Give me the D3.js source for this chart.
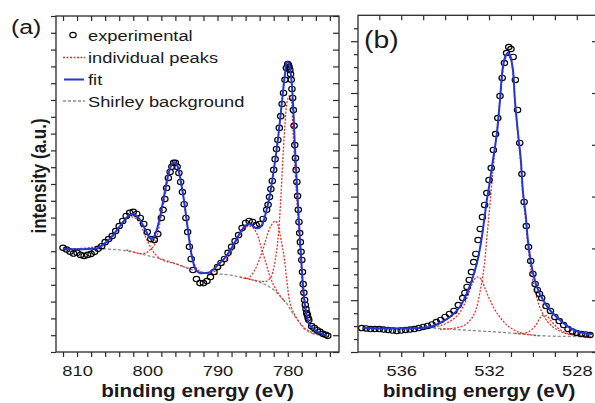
<!DOCTYPE html>
<html><head><meta charset="utf-8">
<script src="https://cdn.jsdelivr.net/npm/d3@7"></script>
<style>
html,body{margin:0;padding:0;background:#fff;}
svg{display:block;}
text{font-family:"Liberation Sans", Arial, sans-serif; fill:#1a1a1a;}
</style></head><body>
<svg id="chart" width="595" height="403"></svg>
<script>
// ---------- DATA (binding energy eV, intensity a.u.) ----------
const panelLabels = ["(a)", "(b)"];
const legendLabels = ["experimental", "individual peaks", "fit", "Shirley background"];
const xTitle = "binding energy (eV)";
const yTitle = "intensity (a.u.)";
const xTickLabelsA = [810, 800, 790, 780];
const xTickLabelsB = [536, 532, 528];

const expA = [[812.0,3.10],[811.5,3.05],[811.0,2.98],[810.5,2.93],[810.0,2.95],[809.5,2.89],[809.0,2.86],[808.5,2.89],[808.0,2.92],[807.5,2.98],[807.0,3.07],[806.5,3.15],[806.0,3.27],[805.5,3.36],[805.0,3.45],[804.5,3.60],[804.0,3.75],[803.5,3.90],[803.0,4.05],[802.5,4.14],[802.0,4.17],[801.5,4.11],[801.0,3.99],[800.5,3.81],[800.0,3.57],[799.5,3.36],[799.0,3.33],[798.5,3.51],[798.0,3.99],[797.75,4.23],[797.5,4.55],[797.25,4.88],[797.0,5.18],[796.75,5.36],[796.5,5.51],[796.25,5.63],[796.0,5.63],[795.75,5.51],[795.5,5.33],[795.25,5.06],[795.0,4.76],[794.75,4.40],[794.5,3.99],[794.25,3.57],[794.0,3.13],[793.75,2.77],[793.5,2.44],[793.0,2.17],[792.5,2.05],[792.0,2.05],[791.5,2.11],[791.0,2.23],[790.5,2.38],[790.0,2.53],[789.5,2.65],[789.0,2.77],[788.5,2.95],[788.0,3.13],[787.5,3.30],[787.0,3.48],[786.5,3.69],[786.0,3.84],[785.5,3.90],[785.0,3.87],[784.5,3.78],[784.0,3.81],[783.5,3.96],[783.0,4.23],[782.8,4.38],[782.6,4.61],[782.4,4.85],[782.2,5.09],[782.0,5.42],[781.8,5.74],[781.6,6.04],[781.4,6.31],[781.2,6.67],[781.0,7.02],[780.8,7.38],[780.6,7.71],[780.4,8.10],[780.2,8.45],[780.0,8.57],[779.9,8.54],[779.8,8.48],[779.7,8.39],[779.6,8.27],[779.5,8.10],[779.4,7.83],[779.3,7.56],[779.2,7.20],[779.1,6.73],[779.0,6.16],[778.9,5.77],[778.8,5.42],[778.7,5.06],[778.6,4.64],[778.5,4.23],[778.4,3.87],[778.3,3.54],[778.2,3.27],[778.1,2.98],[778.0,2.74],[777.9,2.38],[777.8,2.02],[777.7,1.76],[777.6,1.55],[777.5,1.40],[777.4,1.28],[777.3,1.16],[777.2,1.10],[777.1,1.01],[777.0,0.95],[776.6,0.77],[776.2,0.71],[775.8,0.65],[775.4,0.60],[775.0,0.54],[774.6,0.51],[774.3,0.48]];

const fitA = [[812.0,3.07],[811.0,3.06],[810.0,3.06],[809.0,3.06],[808.0,3.07],[807.0,3.10],[806.0,3.24],[805.0,3.45],[804.0,3.72],[803.0,3.99],[802.46,4.08],[802.03,4.11],[801.47,4.05],[801.04,3.93],[800.47,3.72],[800.04,3.54],[799.62,3.39],[799.33,3.36],[798.76,3.57],[798.19,4.02],[797.62,4.64],[797.06,5.24],[796.49,5.60],[796.13,5.65],[795.78,5.57],[795.35,5.21],[794.78,4.52],[794.21,3.63],[793.64,2.83],[793.07,2.44],[792.50,2.35],[791.79,2.35],[791.08,2.38],[790.37,2.50],[789.66,2.65],[788.95,2.80],[788.24,3.01],[787.52,3.27],[786.81,3.54],[786.10,3.75],[785.53,3.81],[785.11,3.78],[784.54,3.69],[784.11,3.69],[783.68,3.78],[783.12,4.14],[782.55,4.67],[781.98,5.42],[781.41,6.31],[780.84,7.41],[780.41,8.24],[780.13,8.63],[779.84,8.60],[779.56,8.27],[779.27,7.50],[778.99,6.16],[778.71,5.06],[778.42,3.93],[778.14,2.98],[777.85,2.05],[777.57,1.46],[777.28,1.07],[776.86,0.80],[776.14,0.65],[775.43,0.57],[774.44,0.48]];

const bgA = [[812.0,3.07],[809.0,3.07],[806.3,3.07],[803.6,3.03],[801.0,2.92],[799.2,2.83],[797.5,2.74],[795.8,2.62],[793.9,2.47],[792.5,2.38],[791.1,2.32],[789.7,2.32],[788.2,2.29],[786.8,2.23],[785.4,2.17],[784.0,2.08],[782.8,1.96],[781.8,1.82],[781.0,1.64],[780.1,1.43],[779.3,1.16],[778.4,0.89],[777.6,0.68],[776.7,0.57],[775.7,0.51],[774.4,0.48]];

const peakA1 = [[812.0,3.07],[809.5,3.08],[807.5,3.13],[806.0,3.24],[805.0,3.42],[804.0,3.69],[803.0,3.96],[802.3,4.02],[801.75,3.99],[801.0,3.81],[800.3,3.45],[799.6,3.15],[798.9,2.92],[797.9,2.74],[796.1,2.63],[793.9,2.47]];
const peakA2 = [[803.0,3.04],[801.0,2.93],[800.2,2.95],[799.6,3.04],[799.0,3.18],[798.5,3.54],[797.9,4.17],[797.3,4.85],[796.8,5.39],[796.2,5.61],[795.6,5.51],[795.1,4.97],[794.5,4.05],[793.9,3.24],[793.4,2.68],[792.8,2.44],[791.8,2.35],[790.4,2.32]];
const peakA3 = [[792.5,2.38],[791.1,2.35],[789.7,2.50],[788.2,2.92],[787.1,3.39],[786.2,3.66],[785.5,3.75],[784.8,3.66],[784.2,3.42],[783.7,3.04],[783.1,2.65],[782.6,2.29],[782.0,1.99],[781.3,1.73],[780.4,1.49]];
const peakA4 = [[786.8,2.23],[785.7,2.19],[784.7,2.44],[783.7,2.95],[783.0,3.42],[782.4,3.75],[781.8,3.90],[781.4,3.78],[781.0,3.39],[780.5,2.80],[780.1,2.08],[779.7,1.49],[779.1,1.14],[778.4,0.91],[777.4,0.68],[776.1,0.54]];
const peakA5 = [[786.1,2.20],[784.7,2.13],[783.7,2.10],[783.0,2.11],[782.4,2.23],[782.0,2.50],[781.6,2.98],[781.3,3.57],[781.0,4.52],[780.7,5.71],[780.4,6.76],[780.1,7.44],[779.8,7.62],[779.5,7.50],[779.3,6.76],[779.0,5.57],[778.7,4.52],[778.4,3.48],[778.1,2.59],[777.9,1.85],[777.6,1.31],[777.1,0.89],[776.6,0.65],[775.7,0.54],[774.4,0.48]];

const expB = [[537.8,0.463],[537.6,0.454],[537.4,0.444],[537.2,0.444],[537.0,0.444],[536.8,0.434],[536.6,0.425],[536.4,0.415],[536.2,0.405],[536.0,0.415],[535.8,0.425],[535.6,0.434],[535.4,0.444],[535.2,0.463],[535.0,0.483],[534.8,0.502],[534.6,0.531],[534.4,0.579],[534.2,0.618],[534.0,0.676],[533.8,0.734],[533.6,0.792],[533.4,0.907],[533.2,1.042],[533.1,1.139],[533.0,1.255],[532.9,1.390],[532.8,1.544],[532.7,1.737],[532.6,1.892],[532.5,2.162],[532.4,2.375],[532.3,2.606],[532.2,2.838],[532.1,3.069],[532.0,3.320],[531.9,3.552],[531.8,3.900],[531.7,4.208],[531.6,4.517],[531.5,4.942],[531.4,5.290],[531.3,5.579],[531.2,5.772],[531.1,5.888],[531.0,5.849],[530.9,5.695],[530.8,5.251],[530.7,4.672],[530.6,4.035],[530.5,3.436],[530.4,2.896],[530.3,2.432],[530.2,2.027],[530.1,1.757],[530.0,1.506],[529.9,1.313],[529.8,1.197],[529.7,1.120],[529.6,1.042],[529.4,0.888],[529.2,0.792],[529.0,0.676],[528.8,0.598],[528.6,0.521],[528.4,0.444],[528.2,0.396],[528.0,0.367],[527.8,0.347],[527.6,0.338],[527.4,0.328]];

const fitB = [[537.74,0.463],[536.06,0.454],[534.69,0.483],[534.24,0.560],[533.78,0.676],[533.33,0.869],[533.01,1.139],[532.78,1.390],[532.55,1.718],[532.37,2.104],[532.23,2.510],[532.10,2.934],[532.00,3.185],[531.82,3.707],[531.64,4.228],[531.50,4.865],[531.37,5.502],[531.25,5.714],[531.16,5.772],[531.05,5.734],[530.91,5.444],[530.82,4.865],[530.68,4.228],[530.55,3.707],[530.46,3.127],[530.32,2.606],[530.23,2.162],[530.05,1.641],[529.82,1.255],[529.54,1.004],[529.23,0.811],[528.77,0.618],[528.31,0.463],[527.72,0.367],[527.31,0.347]];

const bgB = [[537.74,0.463],[534.69,0.463],[533.19,0.425],[531.64,0.386],[530.46,0.347],[529.36,0.309],[527.31,0.299]];

const peakB1 = [[534.24,0.434],[533.55,0.463],[533.10,0.521],[532.78,0.656],[532.60,0.811],[532.41,1.158],[532.23,1.622],[532.10,2.201],[531.96,2.838],[531.82,3.514],[531.69,4.054],[531.55,4.672],[531.41,5.251],[531.28,5.618],[531.16,5.734],[531.05,5.695],[530.91,5.405],[530.82,4.826],[530.68,4.170],[530.55,3.610],[530.46,3.031],[530.32,2.490],[530.23,2.046],[530.05,1.486],[529.82,1.042],[529.59,0.772],[529.32,0.579],[528.95,0.444],[528.50,0.357],[527.95,0.319],[527.31,0.299]];
const peakB2 = [[535.15,0.463],[534.46,0.483],[533.92,0.560],[533.46,0.695],[533.14,0.907],[532.92,1.139],[532.73,1.351],[532.55,1.448],[532.37,1.409],[532.19,1.236],[531.96,1.004],[531.64,0.753],[531.18,0.521],[530.77,0.405],[530.36,0.347],[529.68,0.309]];
const peakB3 = [[530.82,0.357],[530.46,0.357],[530.14,0.405],[529.86,0.521],[529.68,0.656],[529.54,0.714],[529.36,0.695],[529.13,0.579],[528.86,0.463],[528.54,0.376],[528.08,0.328],[527.40,0.299]];

// ---------- STYLE ----------
const SX = 1.18;               // horizontal stretch of the original picture
const C_FIT = "#2336d6", C_PEAK = "#e3342c", C_BG = "#8c8c8c", C_AX = "#2a2a2a";

const svg = d3.select("#chart");
const defs = svg.append("defs");

function panel(cfg){
  const {x, y, id, exp, fit, bg, peaks} = cfg;
  const [l, r] = x.range(), [b, t] = y.range();
  defs.append("clipPath").attr("id", id).append("rect")
    .attr("x", l).attr("y", t).attr("width", r - l).attr("height", b - t);
  const g = svg.append("g").attr("clip-path", `url(#${id})`);
  const line = d3.line().x(d => x(d[0])).y(d => y(d[1])).curve(d3.curveCatmullRom.alpha(0.5));
  g.append("path").attr("d", line(bg)).attr("fill", "none").attr("stroke", C_BG)
    .attr("stroke-width", 1.3).attr("stroke-dasharray", "3,2");
  peaks.forEach(p => g.append("path").attr("d", line(p)).attr("fill", "none")
    .attr("stroke", C_PEAK).attr("stroke-width", 1.3).attr("stroke-dasharray", "2,1.5"));
  g.selectAll("ellipse.exp").data(exp).join("ellipse").attr("class", "exp")
    .attr("cx", d => x(d[0])).attr("cy", d => y(d[1])).attr("rx", 3.2).attr("ry", 2.7)
    .attr("fill", "none").attr("stroke", "#000").attr("stroke-width", 1.15);
  g.append("path").attr("d", line(fit)).attr("fill", "none").attr("stroke", C_FIT)
    .attr("stroke-width", 2);
  svg.append("rect").attr("x", l).attr("y", t).attr("width", r - l).attr("height", b - t)
    .attr("fill", "none").attr("stroke", C_AX).attr("stroke-width", 1.3);
}

function axisG(gen, tx, ty){
  const g = svg.append("g").attr("transform", `translate(${tx},${ty})`).attr("color", C_AX).call(gen);
  g.select(".domain").remove();
  g.selectAll("line").attr("stroke-width", 1.2);
  return g;
}

// Panel (a)
const xA = d3.scaleLinear().domain([813.0, 772.7]).range([56, 339]);
const yA = d3.scaleLinear().domain([0, 10]).range([352, 16]);
panel({x: xA, y: yA, id: "clipA", exp: expA, fit: fitA, bg: bgA, peaks: [peakA1, peakA2, peakA3, peakA4, peakA5]});
const tickEA = d3.range(812, 773, -2);
const tickIA = d3.range(0, 10.001, 0.5);
const gxA = axisG(d3.axisBottom(xA).tickValues(tickEA).tickSize(5)
  .tickFormat(d => xTickLabelsA.includes(d) ? d : ""), 0, 352);
axisG(d3.axisTop(xA).tickValues(tickEA).tickSize(-5).tickFormat(""), 0, 16);
axisG(d3.axisLeft(yA).tickValues(tickIA).tickSize(5).tickFormat(""), 56, 0);
axisG(d3.axisRight(yA).tickValues(tickIA).tickSize(-6).tickFormat(""), 339, 0);

// Panel (b)
const xB = d3.scaleLinear().domain([537.97, 527.08]).range([358, 597]);
const yB = d3.scaleLinear().domain([0, 6.5]).range([352, 15.3]);
panel({x: xB, y: yB, id: "clipB", exp: expB, fit: fitB, bg: bgB, peaks: [peakB1, peakB2, peakB3]});
const tickEB = d3.range(537, 527.5, -1);
const gxB = axisG(d3.axisBottom(xB).tickValues(tickEB).tickSize(5)
  .tickFormat(d => xTickLabelsB.includes(d) ? d : ""), 0, 352);
axisG(d3.axisTop(xB).tickValues(tickEB).tickSize(-5).tickFormat(""), 0, 15.3);
axisG(d3.axisLeft(yB).tickValues(d3.range(0.25, 6.5, 0.25).filter(v => v % 1 !== 0)).tickSize(4).tickFormat(""), 358, 0);
axisG(d3.axisLeft(yB).tickValues(d3.range(0, 7, 1)).tickSize(7).tickFormat(""), 358, 0);
axisG(d3.axisRight(yB).tickValues(d3.range(0, 7, 1)).tickSize(-5).tickFormat(""), 597, 0);

[gxA, gxB].forEach(g => g.selectAll("text")
  .attr("y", 24).attr("dy", null).attr("fill", "#1a1a1a")
  .style("font-size", "15.5px").style("font-family", '"Liberation Sans", Arial, sans-serif')
  .attr("transform", `scale(${SX},1)`));

// Titles
function stext(x, y, str, size, weight, anchor){
  return svg.append("text").attr("transform", `translate(${x},${y}) scale(${SX},1)`)
    .attr("text-anchor", anchor || "start").style("font-size", size + "px")
    .style("font-weight", weight || "normal").text(str);
}
stext(197.5, 397, xTitle, 17.5, "bold", "middle");
stext(479, 397, xTitle, 17.5, "bold", "middle");
svg.append("text").attr("transform", `translate(46,176) scale(${SX},1) rotate(-90)`)
  .attr("text-anchor", "middle").style("font-size", "17px").style("font-weight", "bold").text(yTitle);
stext(11, 34, panelLabels[0], 21);
stext(364, 48, panelLabels[1], 24);

// Legend
const lg = svg.append("g");
const legY = [35, 57.5, 79.5, 101];
lg.append("ellipse").attr("cx", 73).attr("cy", legY[0]).attr("rx", 3.2).attr("ry", 2.7)
  .attr("fill", "none").attr("stroke", "#000").attr("stroke-width", 1.15);
lg.append("line").attr("x1", 63).attr("x2", 85).attr("y1", legY[1]).attr("y2", legY[1])
  .attr("stroke", C_PEAK).attr("stroke-width", 1.3).attr("stroke-dasharray", "2,1.5");
lg.append("line").attr("x1", 64).attr("x2", 84).attr("y1", legY[2]).attr("y2", legY[2])
  .attr("stroke", C_FIT).attr("stroke-width", 2);
lg.append("line").attr("x1", 63).attr("x2", 85).attr("y1", legY[3]).attr("y2", legY[3])
  .attr("stroke", C_BG).attr("stroke-width", 1.3).attr("stroke-dasharray", "3,2");
legendLabels.forEach((s, i) => stext(88, legY[i] + 5.5, s, 15.5));
</script>
</body></html>
